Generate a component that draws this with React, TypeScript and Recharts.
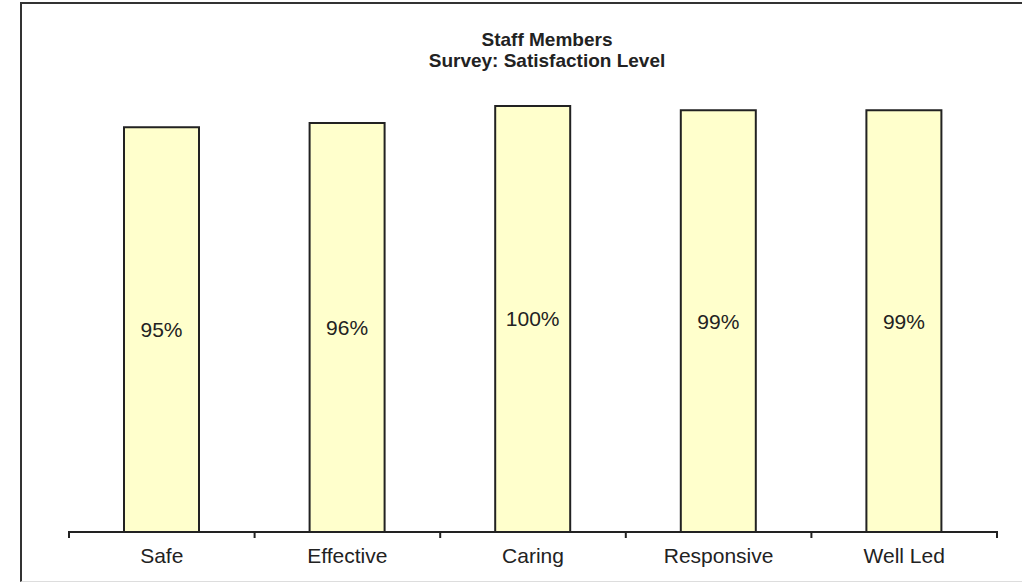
import React from 'react';
import { BarChart, Bar, XAxis, YAxis, LabelList } from 'recharts';

const categories = ['Safe', 'Effective', 'Caring', 'Responsive', 'Well Led'];
const satisfaction = [95, 96, 100, 99, 99];

const data = categories.map((name, i) => ({ name, value: satisfaction[i] }));

const FONT = '"Liberation Sans", Arial, sans-serif';
const W = 1022;
const H = 585;
const MARGIN = { top: 106, right: 25, bottom: 52, left: 69 };
// half of one category band, used for the separator ticks between categories
const HALF_BAND = (W - MARGIN.left - MARGIN.right) / categories.length / 2;

// category label plus tick marks on the band edges (Excel style)
const CategoryTick = (props: any) => {
  const { x, y, payload, index } = props;
  const axisY = y - 1;
  const last = index === categories.length - 1;
  return (
    <g>
      <line x1={x - HALF_BAND} x2={x - HALF_BAND} y1={axisY} y2={axisY + 7} stroke="#222" strokeWidth={2} />
      {last && <line x1={x + HALF_BAND} x2={x + HALF_BAND} y1={axisY} y2={axisY + 7} stroke="#222" strokeWidth={2} />}
      <text x={x} y={y + 16} dy="0.71em" textAnchor="middle" fill="#222" fontSize={21} fontFamily={FONT}>
        {payload.value}
      </text>
    </g>
  );
};

const App: React.FC = () => {
  return (
    <div style={{ position: 'absolute', left: 0, top: 0, width: W, height: H, background: '#fff', overflow: 'hidden', fontFamily: FONT }}>
      {/* frame */}
      <div
        style={{
          position: 'absolute',
          left: 20,
          top: 2,
          width: 1100,
          height: 577,
          borderLeft: '2px solid #333',
          borderTop: '2px solid #333',
          borderBottom: '1px solid #ddd',
        }}
      />
      {/* title */}
      <div
        style={{
          position: 'absolute',
          left: 347,
          width: 400,
          top: 29,
          textAlign: 'center',
          fontWeight: 'bold',
          fontSize: 19,
          lineHeight: '21px',
          color: '#222',
        }}
      >
        <div>Staff Members</div>
        <div>Survey: Satisfaction Level</div>
      </div>
      <div style={{ position: 'absolute', left: 0, top: 0 }}>
        <BarChart width={W} height={H} data={data} margin={MARGIN}>
          <XAxis
            dataKey="name"
            height={1}
            axisLine={{ stroke: '#222', strokeWidth: 2 }}
            tickLine={false}
            tickSize={0}
            tickMargin={0}
            interval={0}
            tick={<CategoryTick />}
          />
          <YAxis hide domain={[0, 100]} />
          <Bar dataKey="value" fill="#FFFFCC" stroke="#222" strokeWidth={2} barSize={75} isAnimationActive={false}>
            <LabelList
              dataKey="value"
              position="center"
              formatter={(v: any) => `${v}%`}
              fill="#222"
              fontSize={21}
              fontFamily={FONT}
            />
          </Bar>
        </BarChart>
      </div>
    </div>
  );
};

export default App;
